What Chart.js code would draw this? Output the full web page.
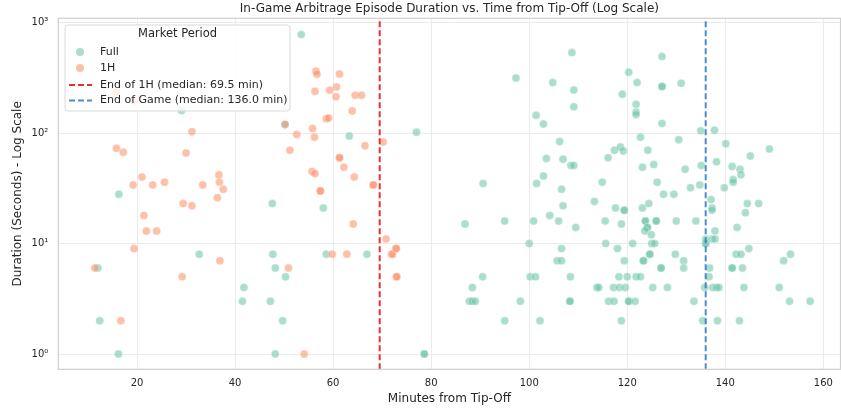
<!DOCTYPE html>
<html>
<head>
<meta charset="utf-8">
<script src="https://cdn.jsdelivr.net/npm/chart.js@4.4.1/dist/chart.umd.min.js"></script>
<style>
  body { margin: 0; background: #fff; }
</style>
</head>
<body>
<canvas id="myChart" width="841" height="412"></canvas>
<script>
// Full-game markets: minute of the episode and how long it lasted (seconds)
var fullMinutes = [
  53.5, 29.1, 50.2, 63.3, 77.0, 16.3, 47.6, 58.0, 12.0, 12.4, 16.2, 32.7, 47.7, 48.2, 50.3, 41.8,
  41.5, 47.2, 49.7, 48.2, 58.6, 66.9, 78.6, 78.6,
  108.7, 127.1, 97.3, 104.8, 109.1, 120.3, 122.0, 127.1, 127.1, 131.0, 119.0, 121.8, 121.8, 121.8,
  109.1, 101.4, 102.9, 127.1, 135.0, 137.8, 122.7, 130.5, 140.1, 149.0, 106.2, 117.4, 118.6, 119.2,
  124.2, 103.5, 106.9, 108.5, 109.1, 116.1, 123.1, 125.4, 131.8, 135.1, 138.2, 141.4, 143.0, 143.2,
  141.6, 141.6, 145.1, 102.9, 101.5, 106.6, 114.9, 126.1, 127.4, 129.5, 132.9, 134.8, 139.8, 144.5,
  146.8, 137.1, 137.3, 137.3, 106.9, 113.3, 117.6, 119.4, 119.4, 123.1, 124.4, 90.6,
  86.9, 95.0, 100.9, 104.2, 106.0, 109.5, 115.5, 118.8, 123.7, 123.7, 125.9, 125.9, 124.1, 124.1,
  123.6, 124.9, 130.0, 134.0, 100.0, 106.6, 105.7, 106.6, 115.6, 118.0, 121.1, 119.4, 123.3, 123.3,
  124.6, 124.6, 125.0, 125.6, 126.9, 126.9, 129.8, 131.5, 131.5, 90.5, 100.2, 101.3, 108.4, 88.4,
  87.8, 88.4, 89.0, 98.2, 108.3, 108.3, 95.0, 102.2, 113.8, 114.2, 117.2, 118.4, 119.6, 116.2,
  117.3, 120.3, 120.3, 121.6, 118.8, 118.3, 120.0, 121.8, 122.7, 125.2, 128.2, 133.6, 135.4, 135.8,
  136.0, 136.0, 136.0, 137.3, 137.9, 136.8, 136.7, 137.4, 138.2, 138.7, 138.4, 137.9, 142.4, 144.1,
  142.2, 143.2, 144.8, 141.4, 141.4, 143.5, 143.8, 142.9, 151.0, 151.9, 153.3, 153.1, 157.3
];
var fullSeconds = [
  780, 160, 120, 94, 102, 28, 23, 21, 6, 2, 1, 8, 8, 6, 5, 4,
  3, 3, 2, 1, 8, 8, 1, 1,
  536, 493, 316, 287, 246, 356, 287, 264, 264, 283, 225, 183, 155, 147,
  173, 145, 121, 122, 105, 106, 92, 87, 80, 72, 84, 70, 75, 69,
  70, 59, 58, 51, 51, 60, 49, 52, 47, 51, 55, 50, 47, 42,
  38, 36, 62, 41, 35, 31, 36, 36, 28, 28, 32, 34, 32, 23,
  23, 25, 21, 20, 22, 24, 21, 20, 20, 21, 23, 35,
  15, 16, 16, 18, 16, 14, 16, 15, 16, 16, 16, 16, 14, 14,
  13, 12, 16, 16, 10, 9, 7, 7, 10, 9, 10, 7, 7, 7,
  8, 8, 10, 10, 6, 6, 8, 7, 6, 5, 5, 5, 5, 4,
  3, 3, 3, 3, 3, 3, 2, 2, 4, 4, 4, 4, 4, 3,
  3, 3, 3, 3, 2, 5, 5, 5, 5, 4, 4, 3, 2, 4,
  10, 10, 11, 11, 11, 6, 5, 4, 4, 4, 2, 13, 14, 19,
  8, 8, 9, 6, 6, 6, 4, 2, 4, 7, 8, 3, 3
];

// First-half markets
var halfMinutes = [
  15.8, 19.4, 15.8, 17.2, 31.2, 30.0, 21.0, 19.2, 23.2, 25.6, 33.4, 36.7, 36.8, 37.6, 36.4, 29.4,
  31.2, 55.8, 56.2, 52.6, 51.2, 56.5, 56.7, 61.3, 56.3, 59.3, 60.7, 60.6, 64.5, 65.8, 63.9, 58.6,
  59.1, 66.5, 70.2, 61.3, 61.3, 62.2, 55.7, 56.3, 64.3, 68.2, 68.2, 57.4, 57.4, 50.2,
  11.4, 16.7, 19.4, 21.4, 21.9, 24.0, 29.2, 36.9, 50.9, 54.1, 59.8, 62.8, 64.1, 70.8, 71.9, 72.1,
  72.8, 72.9, 72.9, 73.0
];
var halfSeconds = [
  235, 195, 73, 67, 103, 66, 40, 34, 34, 36, 34, 42, 36, 31, 26, 23,
  22, 110, 92, 97, 70, 364, 342, 344, 240, 245, 262, 213, 220, 220, 159, 135,
  137, 77, 83, 60, 60, 49, 45, 43, 40, 34, 34, 30, 30, 120,
  6, 2, 9, 18, 13, 13, 5, 7, 6, 1, 8, 8, 15, 11, 8, 8,
  9, 9, 5, 5
];

var endOfHalf = 69.5;
var endOfGame = 136.0;
var xTicks = [20, 40, 60, 80, 100, 120, 140, 160];
var yTicks = [1, 10, 100, 1000];
var yTickLabels = ['10⁰', '10¹', '10²', '10³'];
var xMin = 3.94, xMax = 163.5;
var yMin = 0.727, yMax = 1096;

var font = 'DejaVu Sans';
var textColor = '#262626';
var fullColor = 'rgba(102,194,165,0.55)';
var halfColor = 'rgba(252,141,98,0.55)';
var redLine = 'rgba(228,26,28,0.9)';
var blueLine = 'rgba(55,126,200,0.9)';

function points(xs, ys) {
  return xs.map(function (x, i) { return { x: x, y: ys[i] }; });
}

// frame round the plot + legend box in the upper-left corner
var framePlugin = {
  id: 'frame',
  afterDraw: function (chart) {
    var c = chart.ctx, a = chart.chartArea;
    c.save();
    c.strokeStyle = '#d0d0d0';
    c.lineWidth = 1.25;
    c.strokeRect(a.left, a.top, a.right - a.left, a.bottom - a.top);

    // legend
    var bx = 65, by = 25, bw = 225, bh = 86;
    c.beginPath();
    c.roundRect(bx, by, bw, bh, 3);
    c.fillStyle = 'rgba(255,255,255,0.8)';
    c.fill();
    c.strokeStyle = '#d9d9d9';
    c.lineWidth = 1;
    c.stroke();

    c.fillStyle = textColor;
    c.textBaseline = 'middle';
    c.textAlign = 'center';
    c.font = '11.5px "' + font + '"';
    c.fillText('Market Period', bx + bw / 2, 34.5);

    c.textAlign = 'left';
    c.font = '11px "' + font + '"';
    var rows = [
      { label: 'Full', color: fullColor, type: 'dot', y: 52 },
      { label: '1H', color: halfColor, type: 'dot', y: 68 },
      { label: 'End of 1H (median: ' + endOfHalf.toFixed(1) + ' min)', color: redLine, type: 'dash', y: 85 },
      { label: 'End of Game (median: ' + endOfGame.toFixed(1) + ' min)', color: blueLine, type: 'dash', y: 100.5 }
    ];
    rows.forEach(function (r) {
      if (r.type === 'dot') {
        c.beginPath();
        c.arc(80, r.y, 4, 0, Math.PI * 2);
        c.fillStyle = r.color;
        c.fill();
      } else {
        c.beginPath();
        c.setLineDash([6, 3]);
        c.moveTo(69, r.y);
        c.lineTo(92, r.y);
        c.strokeStyle = r.color;
        c.lineWidth = 2;
        c.stroke();
        c.setLineDash([]);
      }
      c.fillStyle = textColor;
      c.fillText(r.label, 100, r.y);
    });
    c.restore();
  }
};

var ctx = document.getElementById('myChart');
var chart = new Chart(ctx, {
  type: 'scatter',
  data: {
    datasets: [
      {
        type: 'line',
        label: 'End of 1H',
        data: [{ x: endOfHalf, y: yMin }, { x: endOfHalf, y: yMax }],
        borderColor: redLine,
        borderWidth: 2,
        borderDash: [6, 3],
        pointRadius: 0,
        order: 0
      },
      {
        type: 'line',
        label: 'End of Game',
        data: [{ x: endOfGame, y: yMin }, { x: endOfGame, y: yMax }],
        borderColor: blueLine,
        borderWidth: 2,
        borderDash: [6, 3],
        pointRadius: 0,
        order: 0
      },
      {
        label: 'Full',
        data: points(fullMinutes, fullSeconds),
        backgroundColor: fullColor,
        borderColor: 'rgba(255,255,255,0.5)',
        borderWidth: 0.6,
        pointRadius: 4,
        order: 2
      },
      {
        label: '1H',
        data: points(halfMinutes, halfSeconds),
        backgroundColor: halfColor,
        borderColor: 'rgba(255,255,255,0.5)',
        borderWidth: 0.6,
        pointRadius: 4,
        order: 1
      }
    ]
  },
  options: {
    responsive: false,
    animation: false,
    layout: { autoPadding: false, padding: { top: 0.9, right: 0.5, left: 0, bottom: 0 } },
    plugins: {
      legend: { display: false },
      tooltip: { enabled: false },
      title: {
        display: true,
        fullSize: false,
        text: 'In-Game Arbitrage Episode Duration vs. Time from Tip-Off (Log Scale)',
        color: textColor,
        font: { family: font, size: 12, weight: 'normal' },
        padding: { top: 1, bottom: 2 }
      }
    },
    scales: {
      x: {
        type: 'linear',
        min: xMin,
        max: xMax,
        bounds: 'data',
        grid: { color: '#ebebeb', drawTicks: false },
        border: { display: false },
        afterBuildTicks: function (s) {
          s.ticks = xTicks.map(function (v) { return { value: v }; });
        },
        afterFit: function (s) {
          s.height = 42.7;
          s.paddingLeft = 0;
          s.paddingRight = 0;
        },
        ticks: { padding: 8, color: textColor, font: { family: font, size: 10 } },
        title: {
          display: true,
          text: 'Minutes from Tip-Off',
          color: textColor,
          font: { family: font, size: 12 },
          padding: { top: 0, bottom: 5.5 }
        }
      },
      y: {
        type: 'logarithmic',
        min: yMin,
        max: yMax,
        bounds: 'data',
        grid: { color: '#ebebeb', drawTicks: false },
        border: { display: false },
        afterBuildTicks: function (s) {
          s.ticks = yTicks.map(function (v) { return { value: v }; });
        },
        afterFit: function (s) {
          s.width = 58.3;
          s.paddingTop = 0;
          s.paddingBottom = 0;
        },
        ticks: {
          padding: 10,
          color: textColor,
          font: { family: font, size: 10 },
          callback: function (v) {
            var i = yTicks.indexOf(v);
            return i >= 0 ? yTickLabels[i] : '';
          }
        },
        title: {
          display: true,
          text: 'Duration (Seconds) - Log Scale',
          color: textColor,
          font: { family: font, size: 12 },
          padding: { top: 11.1, bottom: 0 }
        }
      }
    }
  },
  plugins: [framePlugin]
});
</script>
</body>
</html>
